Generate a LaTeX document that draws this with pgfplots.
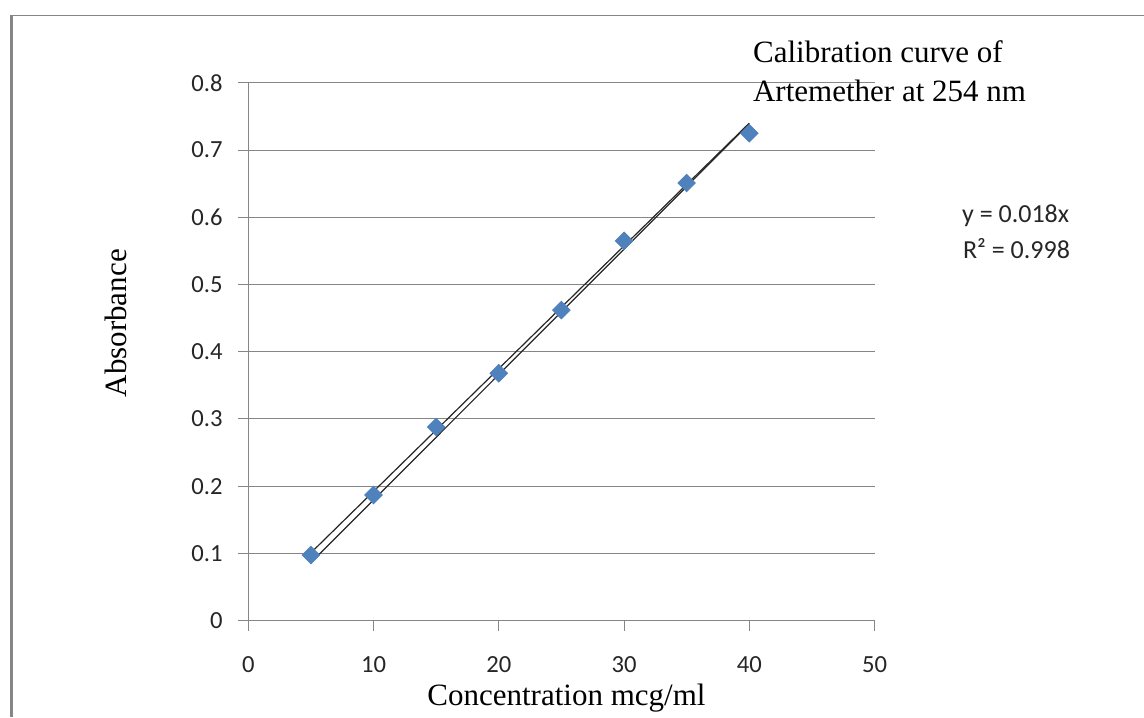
\documentclass[border=0pt]{standalone}
\usepackage{fontspec}
\setmainfont{Liberation Serif}
\newfontfamily\calib{Carlito}
\usepackage{pgfplots}
\pgfplotsset{compat=1.18}
\definecolor{gridgray}{RGB}{134,134,134}
\definecolor{markblue}{RGB}{79,129,189}
\begin{document}
\begin{tikzpicture}
\useasboundingbox (0,0) rectangle (572pt,-358.5pt);
% outer chart border
\begin{scope}[x=0.5pt,y=-0.5pt]
\draw[gridgray, line width=1.5pt] (11,15) -- (11,717);
\draw[gridgray, line width=0.5pt] (10,15.5) -- (1144,15.5);
\end{scope}
\begin{axis}[
  at={(124.15pt,-310.35pt)}, anchor=south west,
  scale only axis, width=313.1pt, height=268.95pt,
  xmin=0, xmax=50, ymin=0, ymax=0.8,
  axis x line*=bottom, axis y line*=left,
  axis line style={draw=gridgray, line width=0.5pt, -},
  ymajorgrids, major grid style={draw=gridgray, line width=0.5pt},
  xtick={0,10,20,30,40,50},
  xticklabels={0,10,20,30,40,50},
  ytick={0,0.1,0.2,0.3,0.4,0.5,0.6,0.7,0.8},
  yticklabels={0,0.1,0.2,0.3,0.4,0.5,0.6,0.7,0.8},
  tick align=outside, major tick length=5pt,
  tick style={draw=gridgray, line width=0.5pt},
  tick label style={font=\calib\fontsize{12.3}{14}\selectfont, text=black!85},
  yticklabel style={inner sep=0pt},
  xticklabel style={inner sep=0pt},
  yticklabel shift=7.7pt,
  xticklabel shift=12.5pt,
  xlabel={Concentration mcg/ml},
  ylabel={Absorbance},
  every axis x label/.style={at={(axis description cs:0.508,-0.158)}, anchor=base, font=\fontsize{15.5}{18}\selectfont},
  every axis y label/.style={at={(axis description cs:-0.1942,0.553)}, anchor=base, rotate=90, font=\fontsize{15.5}{18}\selectfont},
  clip=false,
]
\addplot[only marks, mark=square*, mark size=3.1pt, mark options={rotate=45, fill=markblue, draw=markblue}]
  coordinates {(5,0.0977) (10,0.187) (15,0.288) (20,0.368) (25,0.462) (30,0.565) (35,0.651) (40,0.725)};
\addplot[black!85, line width=0.6pt] coordinates {(5,0.101) (40,0.740)};
\addplot[black!85, line width=0.6pt] coordinates {(5.3,0.092) (40,0.739)};
\end{axis}
\begin{scope}[x=0.5pt,y=-0.5pt]
\node[anchor=base west, inner sep=0pt, font=\fontsize{15.5}{18}\selectfont] at (752.7,63) {Calibration curve of};
\node[anchor=base west, inner sep=0pt, font=\fontsize{15.5}{18}\selectfont] at (752.7,102) {Artemether at 254 nm};
\node[anchor=base west, inner sep=0pt, font=\calib\fontsize{13}{15}\selectfont, text=black!85] at (961.7,222.3) {y = 0.018x};
\node[anchor=base west, inner sep=0pt, font=\calib\fontsize{13}{15}\selectfont, text=black!85] at (962.7,258.3) {R² = 0.998};
\end{scope}
\end{tikzpicture}
\end{document}
